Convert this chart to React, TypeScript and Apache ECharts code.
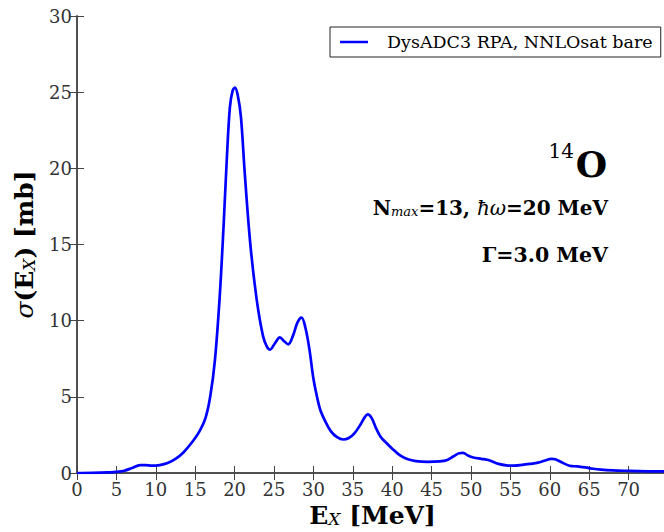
import React, { useEffect, useRef } from "react";
import * as echarts from "echarts";

const energies = [
  0, 2, 4, 5, 6, 7, 8, 8.7, 9.5, 10.5, 11.5, 12.5, 13.5, 14.5, 15.5, 16.3, 16.9, 17.5, 18.1, 18.6,
  19.0, 19.4, 19.75, 20.05, 20.4, 20.8, 21.3, 22.0, 22.8, 23.6, 24.1, 24.5, 25.1, 25.75, 26.3, 26.8,
  27.4, 28.0, 28.5, 29.0, 29.5, 30.0, 30.5, 30.9, 31.5, 32.2, 33.0, 33.8, 34.5, 35.2, 36.0, 36.5,
  36.9, 37.4, 37.9, 38.5, 39.3, 40.0, 41.0, 42.0, 43.0, 44.5, 46.0, 47.0, 47.8, 48.5, 49.0, 49.6,
  50.3, 51.3, 52.2, 53.5, 54.5, 55.5, 56.5, 57.5, 58.5, 59.3, 60.2, 60.7, 61.5, 62.5, 63.5, 64.5,
  65.5, 66.5, 68.0, 70.0, 72.5, 75.0,
];
const sigma = [
  0.0, 0.01, 0.04, 0.07, 0.15, 0.33, 0.52, 0.52, 0.48, 0.52, 0.65, 0.92, 1.35, 1.95, 2.7, 3.6, 5.0, 7.4, 11.5, 16.2,
  20.5, 24.0, 25.1, 25.3, 24.8, 23.4, 19.6, 15.0, 11.4, 9.0, 8.3, 8.1, 8.5, 8.9, 8.65, 8.45,
  9.0, 9.9, 10.2, 9.5, 8.1, 6.2, 4.9, 4.1, 3.4, 2.75, 2.35, 2.2, 2.3, 2.6, 3.2, 3.65,
  3.85, 3.6, 3.0, 2.4, 1.95, 1.6, 1.15, 0.9, 0.78, 0.73, 0.76, 0.86, 1.1, 1.3, 1.32, 1.15,
  1.02, 0.93, 0.85, 0.6, 0.5, 0.48, 0.53, 0.6, 0.68, 0.8, 0.93, 0.9, 0.7, 0.48, 0.43, 0.37,
  0.28, 0.22, 0.17, 0.14, 0.11, 0.1,
];
const seriesName = "DysADC3 RPA, NNLOsat bare";
const xTicks = { min: 0, max: 75, interval: 5 };
const yTicks = { min: 0, max: 30, interval: 5 };

const FONT = "DejaVu Serif";
const AXIS_COLOR = "#444";

export default function App() {
  const ref = useRef<HTMLDivElement>(null);
  useEffect(() => {
    if (!ref.current) return;
    const chart = echarts.init(ref.current, undefined, { renderer: "svg" });
    const data = energies.map((e, i) => [e, sigma[i]]);
    const tickCommon = { show: true, inside: true, length: 7, lineStyle: { color: AXIS_COLOR, width: 1 } };
    chart.setOption({
      animation: false,
      backgroundColor: "#fff",
      textStyle: { fontFamily: FONT },
      grid: { left: 77, top: 16, right: -4, bottom: 59, containLabel: false, outerBoundsMode: "none" },
      legend: {
        left: 330,
        top: 27,
        orient: "horizontal",
        backgroundColor: "#fff",
        borderColor: "#222",
        borderWidth: 1,
        borderRadius: 0,
        padding: [6, 8, 6, 10],
        itemWidth: 28,
        itemHeight: 14,
        textStyle: { fontFamily: FONT, fontSize: 17.5, color: "#000", padding: [0, 0, 0, 14] },
        data: [{ name: seriesName, icon: "path://M0,0 L28,0 L28,2.5 L0,2.5 Z" }],
      },
      xAxis: [
        {
          type: "value",
          min: xTicks.min,
          max: xTicks.max,
          interval: xTicks.interval,
          position: "bottom",
          axisLine: { show: true, lineStyle: { color: AXIS_COLOR, width: 1.5 } },
          axisTick: tickCommon,
          splitLine: { show: false },
          axisLabel: {
            show: true,
            fontFamily: FONT,
            fontSize: 18,
            color: "#333",
            margin: 7,
            showMaxLabel: false,
          },
          name: "{b|E}{sub|X}{b| [MeV]}",
          nameLocation: "middle",
          nameGap: 15,
          nameTextStyle: {
            fontFamily: FONT,
            rich: {
              b: { fontFamily: FONT, fontSize: 25, fontWeight: "bold", color: "#000" },
              sub: { fontFamily: FONT, fontSize: 17, fontStyle: "italic", color: "#000", verticalAlign: "bottom", padding: [8, 0, 0, 0] },
            },
          },
        },
        {
          type: "value",
          min: xTicks.min,
          max: xTicks.max,
          interval: xTicks.interval,
          position: "top",
          axisLine: { show: true, lineStyle: { color: AXIS_COLOR, width: 1.5 } },
          axisTick: tickCommon,
          splitLine: { show: false },
          axisLabel: { show: false },
        },
      ],
      yAxis: [
        {
          type: "value",
          min: yTicks.min,
          max: yTicks.max,
          interval: yTicks.interval,
          position: "left",
          axisLine: { show: true, lineStyle: { color: AXIS_COLOR, width: 1.5 } },
          axisTick: tickCommon,
          splitLine: { show: false },
          axisLabel: { show: true, fontFamily: FONT, fontSize: 18, color: "#333", margin: 5 },
          name: "{s|σ}{b|(E}{sub|X}{b|) [mb]}",
          nameLocation: "middle",
          nameGap: 40,
          nameTextStyle: {
            fontFamily: FONT,
            rich: {
              s: { fontFamily: FONT, fontSize: 25, fontStyle: "italic", color: "#000" },
              b: { fontFamily: FONT, fontSize: 25, fontWeight: "bold", color: "#000" },
              sub: { fontFamily: FONT, fontSize: 17, fontStyle: "italic", color: "#000", verticalAlign: "bottom", padding: [8, 0, 0, 0] },
            },
          },
        },
        {
          type: "value",
          min: yTicks.min,
          max: yTicks.max,
          interval: yTicks.interval,
          position: "right",
          axisLine: { show: true, lineStyle: { color: AXIS_COLOR, width: 1.5 } },
          axisTick: tickCommon,
          splitLine: { show: false },
          axisLabel: { show: false },
        },
      ],
      series: [
        {
          name: seriesName,
          type: "line",
          xAxisIndex: 0,
          yAxisIndex: 0,
          data,
          smooth: 0.35,
          symbol: "none",
          showSymbol: false,
          lineStyle: { color: "#0000ff", width: 2.7 },
          itemStyle: { color: "#0000ff" },
        },
      ],
      graphic: [
        {
          type: "text",
          x: 607,
          y: 164,
          style: { text: "O", fontFamily: FONT, fontSize: 36, fontWeight: "bold", fill: "#000", align: "right", verticalAlign: "middle" },
        },
        {
          type: "text",
          x: 574,
          y: 151,
          style: { text: "14", fontFamily: FONT, fontSize: 20, fill: "#000", align: "right", verticalAlign: "middle" },
        },
        {
          type: "text",
          x: 608,
          y: 208,
          style: {
            text: "{b|N}{sub|max}{b|=13, }{i|ħω}{b|=20 MeV}",
            align: "right",
            verticalAlign: "middle",
            rich: {
              b: { fontFamily: FONT, fontSize: 20, fontWeight: "bold", fill: "#000" },
              i: { fontFamily: FONT, fontSize: 20, fontStyle: "italic", fill: "#000" },
              sub: { fontFamily: FONT, fontSize: 13, fontStyle: "italic", fill: "#000", verticalAlign: "bottom", padding: [6, 0, 0, 0] },
            },
          },
        },
        {
          type: "text",
          x: 608,
          y: 255,
          style: { text: "Γ=3.0 MeV", fontFamily: FONT, fontSize: 20.5, fontWeight: "bold", fill: "#000", align: "right", verticalAlign: "middle" },
        },
      ],
    });
    return () => chart.dispose();
  }, []);
  return <div ref={ref} style={{ position: "absolute", left: 0, top: 0, width: 664, height: 532 }} />;
}
